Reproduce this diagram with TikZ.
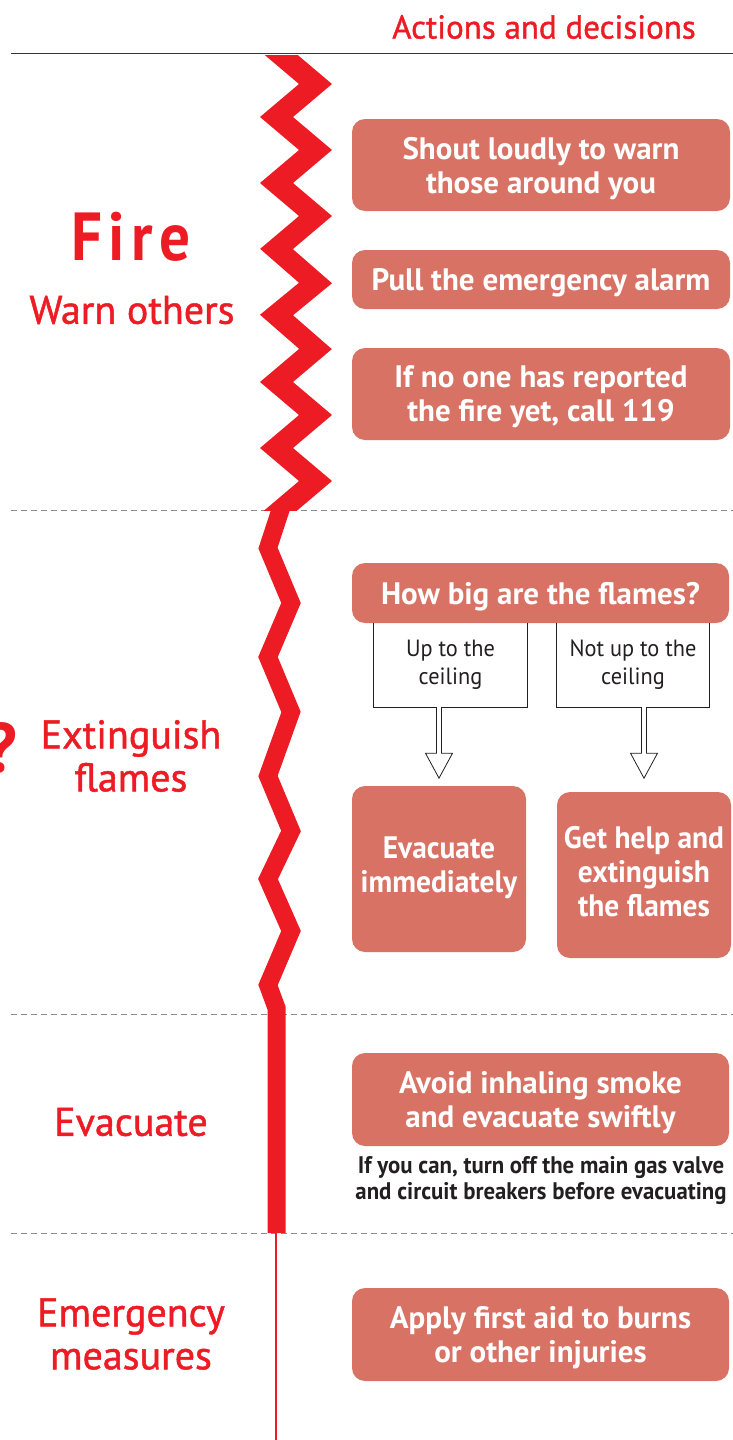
\documentclass[tikz,border=0pt]{standalone}
\usepackage{fontspec}
\setmainfont{PT Sans}
\newfontfamily\cond{PT Sans}[FakeStretch=0.95]
\newfontfamily\wide{PT Sans}
\newfontfamily\semi{PT Sans}[FakeBold=1.2]
\newfontfamily\firefont{PT Sans}[FakeStretch=0.9,LetterSpace=9]
\usetikzlibrary{arrows.meta}
\definecolor{zred}{HTML}{ED1C24}
\definecolor{boxc}{HTML}{D87265}
\definecolor{ink}{HTML}{231F20}
\definecolor{dashgray}{HTML}{8C8C8C}
\newcommand\boxfont{\wide\bfseries\fontsize{31}{34}\selectfont}
\newcommand\labfont{\semi\fontsize{40}{43}\selectfont}
\begin{document}
\begin{tikzpicture}[x=1pt,y=-1pt,
  actbox/.style={fill=boxc, rounded corners=13pt, text=white, font=\boxfont, align=center, inner sep=0pt, text depth=0pt},
  sublab/.style={text=ink, font=\cond\fontsize{23.5}{28}\selectfont, align=center, inner sep=0pt},
  redlab/.style={text=zred, font=\labfont, align=center, inner sep=0pt},
  sepline/.style={dashgray, line width=1pt, dash pattern=on 6pt off 4pt},
  frame/.style={ink, line width=0.8pt},
  hollow/.style={ink, line width=0.8pt, fill=white, line join=miter}
]
\useasboundingbox (0,0) rectangle (733,1440);

% header
\node[text=zred, font=\semi\fontsize{33}{36}\selectfont, inner sep=0pt] (head) at (544,27) {Actions and decisions};
\draw[ink!90, line width=1pt] (11,53) -- (733,53);

% dashed separators
\draw[sepline] (11,510) -- (733,510);
\draw[sepline] (11,1014) -- (733,1014);
\draw[sepline] (11,1233) -- (733,1233);

% zigzag 1
\begin{scope}
\clip (200,55) rectangle (400,510);
\draw[zred, line width=21.3pt, line join=miter, miter limit=10]
  (237.5,18) -- (276.5,51) -- (315.5,84) -- (276.5,117) -- (315.5,150) -- (276.5,183) -- (315.5,216)
  -- (276.5,249) -- (315.5,283) -- (276.5,315) -- (315.5,349) -- (276.5,382) -- (315.5,415)
  -- (276.5,448) -- (315.5,481) -- (276.5,514) -- (237.5,547);
\end{scope}
% zigzag 2 and bar
\begin{scope}
\clip (200,507) rectangle (400,1300);
\draw[zred, line width=18pt, line join=miter, miter limit=10]
  (286,493) -- (268,548) -- (291,603) -- (268,657) -- (291,712) -- (268,776) -- (291,831)
  -- (268,879) -- (291,931) -- (268,985) -- (276.5,1008) -- (276.5,1233);
\end{scope}
\draw[zred, line width=1.5pt] (276,1233) -- (276,1440);

% left labels
\node[text=zred, font=\firefont\bfseries\fontsize{68}{70}\selectfont, inner sep=0pt] (fire) at (131,237) {Fire};
\node[redlab] (warn) at (132,310) {Warn others};
\node[redlab, font=\wide\bfseries\fontsize{70}{72}\selectfont, anchor=base] (qm) at (1,772) {?};
\node[redlab] (ext) at (131,756) {Extinguish\\flames};
\node[redlab] (evl) at (131,1122) {Evacuate};
\node[redlab] (emer) at (131,1334) {Emergency\\measures};

% action boxes
\node[actbox, minimum width=378pt, minimum height=92pt] (b1) at (541,165) {Shout loudly to warn\\those around you};
\node[actbox, minimum width=378pt, minimum height=59pt] (b2) at (541,279.5) {Pull the emergency alarm};
\node[actbox, minimum width=378pt, minimum height=92pt] (b3) at (541,394) {If no one has reported\\the fire yet, call 119};
\node[actbox, minimum width=377pt, minimum height=60pt] (q) at (540.5,593) {How big are the flames?};
\node[sublab, minimum width=153pt, minimum height=84pt] (up) at (450.5,665) {Up to the\\ceiling};
\node[sublab, minimum width=152pt, minimum height=84pt] (nup) at (633,665) {Not up to the\\ceiling};
\node[actbox, font=\cond\bfseries\fontsize{31}{34}\selectfont, text depth=8pt, minimum width=174pt, minimum height=166pt] (evac) at (439,869) {Evacuate\\immediately};
\node[actbox, font=\cond\bfseries\fontsize{31}{34}\selectfont, text depth=7pt, minimum width=174pt, minimum height=166pt] (help) at (644,875) {Get help and\\extinguish\\the flames};
\node[actbox, minimum width=377pt, minimum height=93pt] (avoid) at (540.5,1099.5) {Avoid inhaling smoke\\and evacuate swiftly};
\node[text=ink, font=\cond\bfseries\fontsize{24}{26}\selectfont, align=center, inner sep=0pt] (note) at (541,1180) {If you can, turn off the main gas valve\\and circuit breakers before evacuating};
\node[actbox, minimum width=377pt, minimum height=93pt] (aid) at (540.5,1334.5) {Apply first aid to burns\\or other injuries};

% open-top frames
\draw[frame] (up.north west) -- (up.south west) -- (up.south east) -- (up.north east);
\draw[frame] (nup.north west) -- (nup.south west) -- (nup.south east) -- (nup.north east);

% hollow arrows
\coordinate (a1) at (up.south -| evac.north);
\coordinate (a2) at (nup.south -| help.north);
\draw[hollow] ([xshift=-2.5pt]a1) -- ([xshift=-2.5pt,yshift=-46pt]a1) -- ([xshift=-13.5pt,yshift=-46pt]a1)
  -- ([yshift=-71pt]a1) -- ([xshift=13.5pt,yshift=-46pt]a1) -- ([xshift=2.5pt,yshift=-46pt]a1) -- ([xshift=2.5pt]a1);
\draw[hollow] ([xshift=-2.5pt]a2) -- ([xshift=-2.5pt,yshift=-46pt]a2) -- ([xshift=-13.5pt,yshift=-46pt]a2)
  -- ([yshift=-71pt]a2) -- ([xshift=13.5pt,yshift=-46pt]a2) -- ([xshift=2.5pt,yshift=-46pt]a2) -- ([xshift=2.5pt]a2);
\end{tikzpicture}
\end{document}
